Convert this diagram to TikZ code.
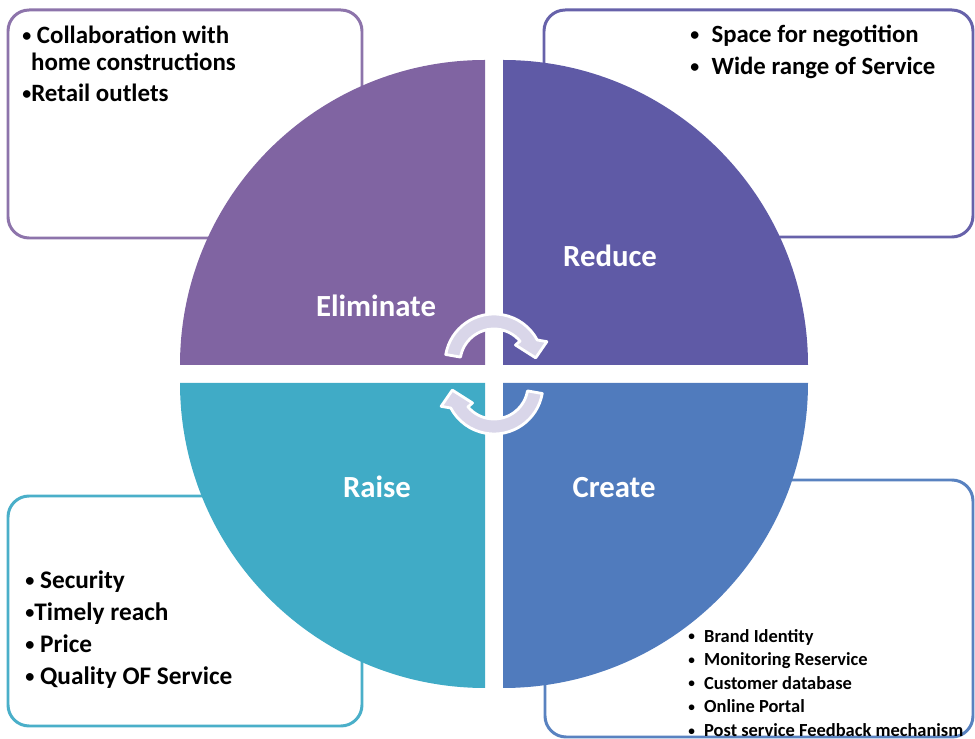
\documentclass[tikz,border=0pt]{standalone}
\usepackage{graphicx}
\usepackage{fontspec}
\setmainfont{Carlito}
\newcommand{\blt}{\raisebox{0.08em}{\scalebox{0.72}{•}}}
\definecolor{elimcol}{RGB}{128,100,162}
\definecolor{redcol}{RGB}{95,90,166}
\definecolor{crecol}{RGB}{80,123,189}
\definecolor{raicol}{RGB}{64,171,198}
\definecolor{turncol}{RGB}{217,214,233}
\tikzset{%
  box/.style = {rounded corners=12pt, line width=1.7pt, fill=white},
  lbl/.style = {text=white, anchor=base, inner sep=0pt,
        font=\fontsize{17.5}{20}\selectfont\bfseries},
  txt/.style = {anchor=north west, align=left, inner sep=0pt},
  turn/.style = {fill=turncol, draw=white, line width=1.6pt,
        line join=round}
}
\begin{document}
\begin{tikzpicture}[x=0.02cm,y=0.02cm]
  \useasboundingbox (0,0) rectangle (975,-739);

  \draw[box, draw=elimcol!90!white] (8,-10) rectangle (362,-238);
  \draw[box, draw=redcol!95!white] (544,-10) rectangle (973,-237);
  \draw[box, draw=crecol!95!white] (545,-480) rectangle (973,-737);
  \draw[box, draw=raicol!95!white] (8,-496) rectangle (362,-726);

  \fill[elimcol] (485,-365) -- ++(-305,0) arc[start angle=180, end angle=90, radius=305] -- cycle;
  \fill[redcol] (503,-365) -- ++(0,305) arc[start angle=90, end angle=0, radius=305] -- cycle;
  \fill[crecol] (503,-383) -- ++(305,0) arc[start angle=0, end angle=-90, radius=305] -- cycle;
  \fill[raicol] (485,-383) -- ++(0,-305) arc[start angle=270, end angle=180, radius=305] -- cycle;

  \node[lbl] (elim) at (376,-317) {Eliminate};
  \node[lbl] (red) at (610,-267) {Reduce};
  \node[lbl] (rai) at (377,-498) {Raise};
  \node[lbl] (cre) at (614,-498) {Create};

  \begin{scope}[shift={(494,-363)}]
    \filldraw[turn] (170:49) arc[start angle=170, end angle=28, radius=49]
      -- (22:57) -- (7:42) -- (40:28) -- (40:34)
      arc[start angle=40, end angle=170, radius=34] -- cycle;
  \end{scope}
  \begin{scope}[shift={(494,-385)}, rotate=180]
    \filldraw[turn] (170:49) arc[start angle=170, end angle=28, radius=49]
      -- (22:57) -- (7:42) -- (40:28) -- (40:34)
      arc[start angle=40, end angle=170, radius=34] -- cycle;
  \end{scope}

  \node[txt, font=\fontsize{14.2}{15}\selectfont\bfseries] (elimtxt) at (22,-26)
    {\blt{} Collaboration with\\\hspace{5pt}home constructions\\[3pt]\blt Retail outlets};
  \node[txt, font=\fontsize{14.1}{18.2}\selectfont\bfseries] (redtxt) at (690,-25)
    {\blt\enspace Space for negotition\\\blt\enspace Wide range of Service};
  \node[txt, font=\fontsize{10.5}{13.4}\selectfont\bfseries] (cretxt) at (688,-629)
    {\blt\enspace Brand Identity\\\blt\enspace Monitoring Reservice\\\blt\enspace Customer database\\
     \blt\enspace Online Portal\\\blt\enspace Post service Feedback mechanism};
  \node[txt, font=\fontsize{14.4}{18.2}\selectfont\bfseries] (raitxt) at (25,-570)
    {\blt{} Security\\\blt Timely reach\\\blt{} Price\\\blt{} Quality OF Service};
\end{tikzpicture}
\end{document}
